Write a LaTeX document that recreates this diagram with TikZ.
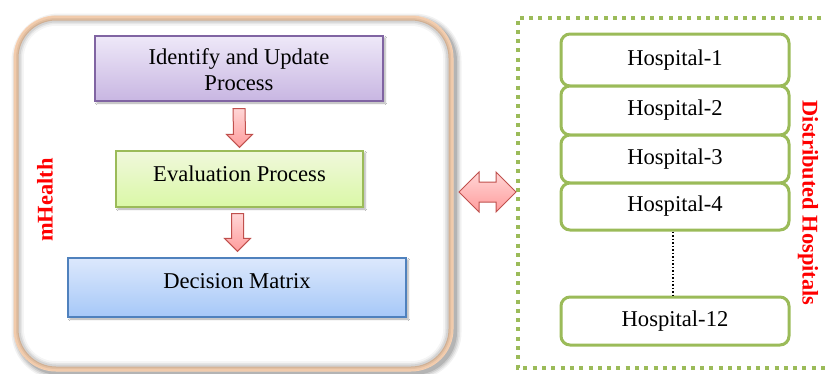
\documentclass[tikz,border=0pt]{standalone}
\usepackage{fontspec}
\setmainfont{Liberation Serif}
\usetikzlibrary{calc,shadows.blur}

\definecolor{peach}{RGB}{251,212,180}
\definecolor{purpleedge}{RGB}{128,100,162}
\definecolor{purpletop}{RGB}{238,232,248}
\definecolor{purplebot}{RGB}{200,182,226}
\definecolor{greenedge}{RGB}{155,187,89}
\definecolor{greentop}{RGB}{240,248,220}
\definecolor{greenbot}{RGB}{218,248,166}
\definecolor{blueedge}{RGB}{79,129,189}
\definecolor{bluetop}{RGB}{220,232,252}
\definecolor{bluebot}{RGB}{166,200,248}
\definecolor{arrowedge}{RGB}{192,80,77}
\definecolor{arrowtop}{RGB}{255,214,214}
\definecolor{arrowbot}{RGB}{255,156,156}
\definecolor{hospgreen}{RGB}{155,187,89}

\tikzset{
  txt/.style={font=\fontsize{22.6}{26.5}\selectfont, align=center, inner sep=0pt},
  redlabel/.style={font=\fontsize{22.4}{26}\selectfont\bfseries, text=red, inner sep=0pt},
  stagebox/.style={draw, line width=1.2pt, inner sep=0pt,
    blur shadow={shadow xshift=2pt, shadow yshift=-2pt, shadow blur steps=4, shadow opacity=35}},
  hospbox/.style={draw=hospgreen, line width=3pt, rounded corners=9pt, fill=white,
    minimum width=228pt, inner sep=0pt, font=\fontsize{22.6}{26}\selectfont},
  blockarrow/.style={draw=arrowedge, line width=1pt, top color=arrowtop, bottom color=arrowbot},
}

\begin{document}
\begin{tikzpicture}[x=1pt,y=-1pt]
\useasboundingbox (0,0) rectangle (827,373);

% mHealth container: soft grey shadow under a peach rounded frame
\foreach \w/\o in {15/0.05,12/0.07,9/0.09,6/0.12}{
  \draw[line width=\w pt, black, opacity=\o, rounded corners=40pt]
    (19,21) rectangle (454,372);
}
\draw[line width=5pt, peach, fill=white, rounded corners=40pt] (16,18) rectangle (451,369);
% faint inner shade along the frame
\foreach \w/\o in {10/0.04,6/0.06,3/0.08}{
  \draw[line width=\w pt, black, opacity=\o, rounded corners=37pt]
    (19,21) rectangle (448,366);
}
\fill[white, rounded corners=32pt] (24,26) rectangle (443,361);

% process stages
\node[stagebox, draw=purpleedge, top color=purpletop, bottom color=purplebot,
      minimum width=288pt, minimum height=65pt] (ident) at (239,68.5) {};
\node[txt] (identtxt) at ([yshift=-1pt]ident.center) {Identify and Update\\Process};

\node[stagebox, draw=greenedge, top color=greentop, bottom color=greenbot,
      minimum width=247pt, minimum height=56pt] (eval) at (239.5,179) {};
\node[txt] (evaltxt) at ([yshift=5pt]eval.center) {Evaluation Process};

\node[stagebox, draw=blueedge, top color=bluetop, bottom color=bluebot,
      minimum width=338pt, minimum height=59pt] (dm) at (237,287.5) {};
\node[txt] (dmtxt) at ([yshift=6pt]dm.center) {Decision Matrix};

% block arrows between the stages
\coordinate (a1) at ($(ident.south)+(0,7)$);
\coordinate (a1t) at ($(eval.north)+(0,-3)$);
\draw[blockarrow] ($(a1)+(-6,0)$) -- ($(a1)+(6,0)$) -- ($(a1t)+(6,-13)$) -- ($(a1t)+(13,-13)$)
  -- (a1t) -- ($(a1t)+(-13,-13)$) -- ($(a1t)+(-6,-13)$) -- cycle;

\coordinate (a2) at ($(eval.south)+(-2,6)$);
\coordinate (a2t) at ($(dm.north)+(0.5,-6)$);
\draw[blockarrow] ($(a2)+(-6,0)$) -- ($(a2)+(6,0)$) -- ($(a2t)+(6,-13)$) -- ($(a2t)+(13,-13)$)
  -- (a2t) -- ($(a2t)+(-13,-13)$) -- ($(a2t)+(-6,-13)$) -- cycle;

\node[redlabel, rotate=90] (mhealth) at (45,200) {mHealth};

% distributed hospitals frame (runs off the right edge)
\coordinate (ftr) at (840,17.5);
\coordinate (ftl) at (517.5,17.5);
\coordinate (fbl) at (517.5,368);
\coordinate (fbr) at (840,368);
\draw[hospgreen, line width=4pt, dash pattern=on 4pt off 5.3pt] (ftr) -- (ftl) -- (fbl) -- (fbr);

% two-way link between the two parts
\coordinate (dl) at (459,192);
\coordinate (dr) at (516,192);
\draw[blockarrow] (dl) -- ($(dl)+(20,-20)$) -- ($(dl)+(20,-10)$) -- ($(dr)+(-20,-10)$)
  -- ($(dr)+(-20,-20)$) -- (dr) -- ($(dr)+(-20,20)$) -- ($(dr)+(-20,10)$)
  -- ($(dl)+(20,10)$) -- ($(dl)+(20,20)$) -- cycle;

% hospital stack
\node[hospbox, minimum height=52pt] (h1) at (675,60) {Hospital-1};
\node[hospbox, minimum height=49pt] (h2) at (675,110.5) {Hospital-2};
\node[hospbox, minimum height=48pt] (h3) at (675,159) {Hospital-3};
\node[hospbox, minimum height=47pt] (h4) at (675,206.5) {Hospital-4};
\node[hospbox, minimum height=48pt] (h12) at (675,321) {Hospital-12};
\draw[line width=2pt, dash pattern=on 1.6pt off 1.9pt] ([xshift=-2pt]h4.south) -- ([xshift=-2pt]h12.north);

\node[redlabel, rotate=-90] (dist) at (808,203) {Distributed Hospitals};
\end{tikzpicture}
\end{document}
